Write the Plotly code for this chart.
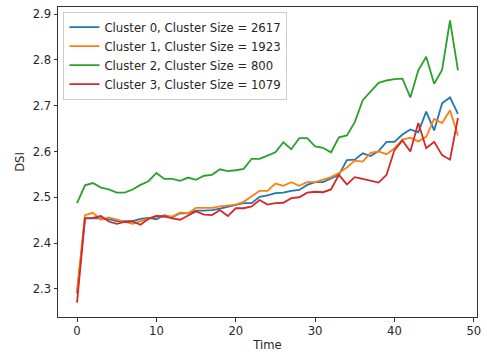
import plotly.graph_objects as go

time = list(range(49))

cluster0 = [2.290, 2.454, 2.454, 2.454, 2.452, 2.448, 2.448, 2.448, 2.453, 2.455,
            2.452, 2.461, 2.456, 2.465, 2.465, 2.471, 2.471, 2.472, 2.475, 2.479,
            2.482, 2.487, 2.487, 2.501, 2.504, 2.509, 2.510, 2.514, 2.516, 2.527,
            2.533, 2.533, 2.541, 2.549, 2.581, 2.582, 2.596, 2.590, 2.601, 2.621,
            2.621, 2.637, 2.648, 2.642, 2.687, 2.646, 2.705, 2.718, 2.682]
cluster1 = [2.296, 2.461, 2.466, 2.451, 2.456, 2.451, 2.446, 2.442, 2.448, 2.454,
            2.459, 2.458, 2.458, 2.467, 2.465, 2.477, 2.477, 2.477, 2.480, 2.482,
            2.484, 2.490, 2.502, 2.514, 2.514, 2.530, 2.525, 2.533, 2.525, 2.533,
            2.533, 2.538, 2.544, 2.553, 2.565, 2.580, 2.578, 2.597, 2.600, 2.594,
            2.607, 2.626, 2.630, 2.622, 2.632, 2.671, 2.662, 2.690, 2.635]
cluster2 = [2.487, 2.526, 2.531, 2.521, 2.517, 2.510, 2.510, 2.517, 2.527, 2.535,
            2.553, 2.540, 2.540, 2.536, 2.543, 2.538, 2.547, 2.549, 2.561, 2.557,
            2.559, 2.562, 2.584, 2.584, 2.591, 2.598, 2.620, 2.605, 2.629, 2.629,
            2.611, 2.608, 2.598, 2.631, 2.635, 2.664, 2.712, 2.730, 2.750, 2.755,
            2.758, 2.759, 2.718, 2.777, 2.807, 2.748, 2.778, 2.886, 2.777]
cluster3 = [2.270, 2.454, 2.455, 2.459, 2.447, 2.442, 2.446, 2.447, 2.440, 2.453,
            2.459, 2.458, 2.454, 2.451, 2.460, 2.469, 2.462, 2.461, 2.472, 2.459,
            2.476, 2.476, 2.480, 2.494, 2.484, 2.487, 2.488, 2.498, 2.500, 2.510,
            2.512, 2.511, 2.517, 2.549, 2.528, 2.544, 2.540, 2.536, 2.532, 2.549,
            2.603, 2.624, 2.600, 2.662, 2.607, 2.621, 2.592, 2.582, 2.673]

names = ["Cluster 0, Cluster Size = 2617",
         "Cluster 1, Cluster Size = 1923",
         "Cluster 2, Cluster Size = 800",
         "Cluster 3, Cluster Size = 1079"]
colors = ["#1f77b4", "#ff7f0e", "#2ca02c", "#d62728"]
series = [cluster0, cluster1, cluster2, cluster3]

x_ticks = [0, 10, 20, 30, 40, 50]
y_ticks = [2.3, 2.4, 2.5, 2.6, 2.7, 2.8, 2.9]

fig = go.Figure()
for name, color, ys in zip(names, colors, series):
    fig.add_trace(go.Scatter(x=time, y=ys, mode="lines", name=name,
                             line=dict(color=color, width=1.8)))

axis_common = dict(showgrid=False, zeroline=False, showline=True, linecolor="#333333",
                   linewidth=1, mirror=True, ticks="outside", ticklen=3.5,
                   tickcolor="#333333", tickwidth=1,
                   tickfont=dict(family="DejaVu Sans", size=11.6, color="#262626"))

fig.update_layout(
    width=487, height=356,
    margin=dict(l=58, r=6, t=6, b=35),
    paper_bgcolor="white", plot_bgcolor="white",
    font=dict(family="DejaVu Sans", size=11.6, color="#262626"),
    xaxis=dict(range=[-2.4, 50.4], tickvals=x_ticks,
               title=dict(text="Time", font=dict(size=11.6), standoff=3), **axis_common),
    yaxis=dict(range=[2.2385, 2.9155], tickvals=y_ticks, tickformat=".1f",
               title=dict(text="DSI", font=dict(size=11.6), standoff=5), **axis_common),
    legend=dict(x=0.013, y=0.985, xanchor="left", yanchor="top",
                bgcolor="rgba(255,255,255,0.8)", bordercolor="#cccccc", borderwidth=1,
                font=dict(size=11.7), tracegroupgap=0, itemwidth=30),
    showlegend=True,
)

fig.write_html("out.html")
